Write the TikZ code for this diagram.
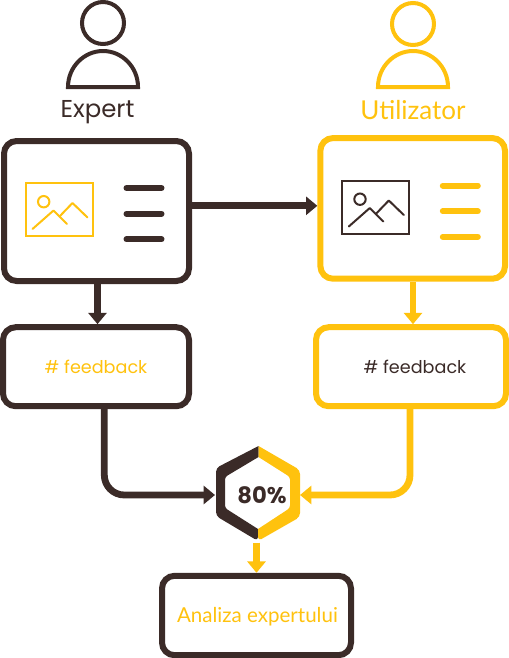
\documentclass[tikz,border=0pt]{standalone}
\usepackage{fontspec}
\setmainfont{Poppins}
\newfontfamily\labelfont{Lato}
\usetikzlibrary{arrows.meta,calc}
\definecolor{ink}{HTML}{3B2B28}
\definecolor{gold}{HTML}{FFC20E}
\tikzset{
  panel/.style={draw=#1,rounded corners=9.5pt,line width=4.5pt,fill=white,inner sep=0pt,align=center},
  flow/.style={draw=#1,line width=5.1pt,-{Triangle[length=8.5pt,width=13.5pt,fill=#1]}},
  rule/.style={draw=#1,line width=4.5pt,line cap=round},
  thin/.style={draw=#1,line width=1.5pt},
  person/.style={draw=#1,line width=3pt},
}
\newcommand{\pxsize}[1]{\fontsize{#1}{#1}\selectfont}
\newcommand{\slideicon}[3]{%
  \begin{scope}[shift={#1}]
    \draw[thin=#2] (26,183) rectangle (93,236);
    \draw[thin=#2] (43.7,201.7) circle[radius=5.7];
    \draw[thin=#2,line cap=round,line join=round] (32.5,229) -- (53.5,210.5) -- (67,224);
    \draw[thin=#2,line cap=round,line join=round] (59.5,216.5) -- (72.5,203) -- (87.5,217.5);
    \draw[rule=#3] (126.5,188) -- (161.5,188);
    \draw[rule=#3] (126.5,213.7) -- (161.5,213.7);
    \draw[rule=#3] (126.5,239.3) -- (161.5,239.3);
  \end{scope}}
\newcommand{\usericon}[3]{%
  \begin{scope}[shift={#1}]
    \draw[person=#2] (103,#3) circle[radius=21];
    \draw[person=#2] (68,87) .. controls (68,67) and (84,51) .. (103,51) .. controls (122,51) and (138,67) .. (138,87) -- cycle;
  \end{scope}}
\begin{document}
\begin{tikzpicture}[x=.75pt,y=-.75pt]
\useasboundingbox (0,0) rectangle (509,658);
\usericon{(0,0)}{ink}{23}
\usericon{(310,0)}{gold}{24}
\node[text=ink,font=\pxsize{18.3}] (lexp) at (97.5,112.5) {Expert};
\node[text=gold,font=\labelfont\pxsize{19.5}] (luti) at (413,110) {Utilizator};

\node[panel=ink,minimum width=138.75pt,minimum height=105pt] (boxE) at (96.5,211) {};
\node[panel=gold,minimum width=138.5pt,minimum height=105.5pt] (boxU) at (412.7,208.4) {};
\slideicon{(0,0)}{gold}{ink}
\slideicon{(316.3,-2.5)}{ink}{gold}

\node[panel=ink,minimum width=139.5pt,minimum height=59.25pt,text=gold,font=\pxsize{13.2}] (fbE) at (96,366.7) {\# feedback};
\node[panel=gold,minimum width=142.5pt,minimum height=59.25pt,text=ink,font=\pxsize{13.2}] (fbU) at (411,366.7) {\hspace*{6pt}\# feedback};
\node[panel=ink,minimum width=141.75pt,minimum height=59.6pt,text=gold,font=\labelfont\pxsize{15.4},text height=12pt,text depth=1.2pt] (ana) at (256.5,615.5) {\hspace*{1.5pt}Analiza expertului};

\node[minimum width=63.75pt,minimum height=71.25pt,inner sep=0pt,outer sep=0pt] (hex) at (257.5,495) {};
\fill[ink] {[rounded corners=3pt] (258.5,446) -- (216,468) -- (216,516) -- (258,541)} -- (258,529) {[rounded corners=2pt] -- (225,508) -- (225,477)} -- (258.5,457) -- cycle;
\fill[gold] {[rounded corners=3pt] (258.5,446) -- (300,470) -- (300,517) -- (258,541)} -- (258,529) {[rounded corners=2pt] -- (290,508) -- (290,477)} -- (258.5,457) -- cycle;
\node[text=ink,font=\bfseries\pxsize{17}] (pct) at (262,495) {80\%};

\draw[flow=ink] (boxE.east |- 0,205.8) -- (boxU.west |- 0,205.8);
\draw[flow=ink] (97.5,284) -- (fbE.north -| 97.5,0);
\draw[flow=gold] (413,282) -- (fbU.north -| 413,0);
\draw[flow=ink,rounded corners=15pt] (fbE.south -| 104.3,0) |- (hex.west);
\draw[flow=gold,rounded corners=15pt] (fbU.south -| 410,0) |- (hex.east);
\draw[flow=gold] (hex.south -| ana.north) -- (ana.north);
\end{tikzpicture}
\end{document}
